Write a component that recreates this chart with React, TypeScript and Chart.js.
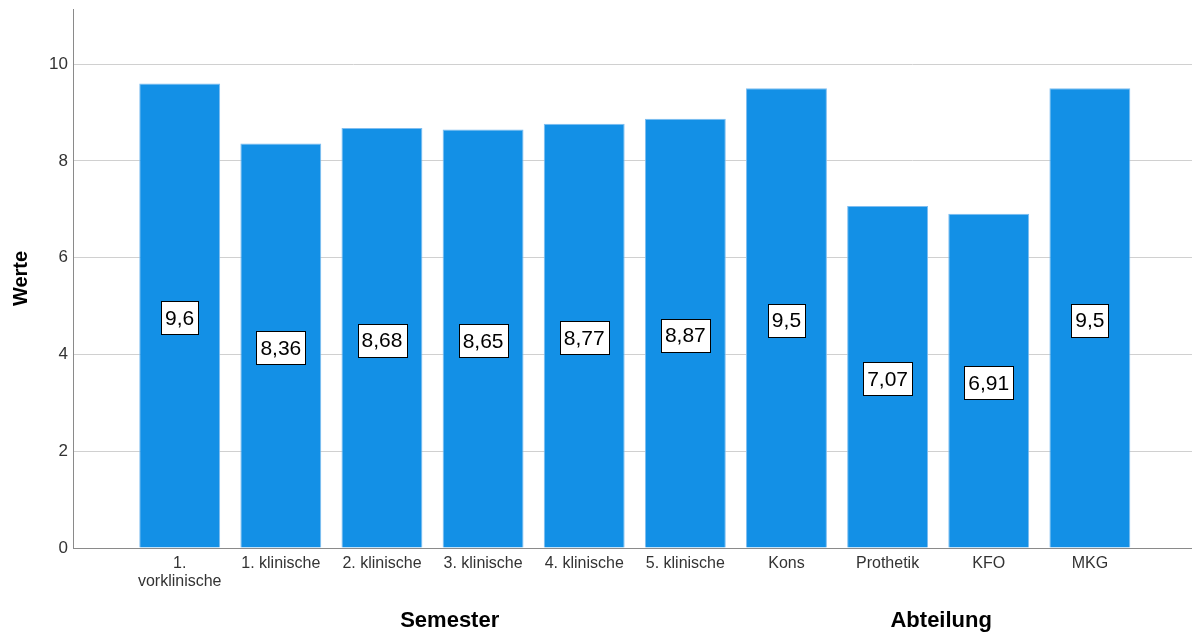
import React, { useEffect, useRef } from "react";
import { Chart, registerables } from "chart.js";

Chart.register(...registerables);

// Category labels (multi-line labels as arrays)
const categories: (string | string[])[] = [
  ["1.", "vorklinische"],
  "1. klinische",
  "2. klinische",
  "3. klinische",
  "4. klinische",
  "5. klinische",
  "Kons",
  "Prothetik",
  "KFO",
  "MKG",
];

// Mean values per category
const values: number[] = [9.6, 8.36, 8.68, 8.65, 8.77, 8.87, 9.5, 7.07, 6.91, 9.5];

// Group headings below the axis and the axis position they are centred on
const groupTitles: string[] = ["Semester", "Abteilung"];
const groupCenters: number[] = [2.67, 7.53];

// Y-axis tick values
const yTicks: number[] = [0, 2, 4, 6, 8, 10];

const FONT = "'Liberation Sans', Arial, sans-serif";

const fmt = (v: number) => String(v).replace(".", ",");

const valueBoxes = {
  id: "valueBoxes",
  afterDatasetsDraw(chart: any) {
    const { ctx } = chart;
    const meta = chart.getDatasetMeta(0);
    const yScale = chart.scales.y;
    ctx.save();
    ctx.font = `21px ${FONT}`;
    ctx.textAlign = "center";
    ctx.textBaseline = "middle";
    meta.data.forEach((bar: any, i: number) => {
      const v = values[i];
      const text = fmt(v);
      const cx = bar.x;
      const cy = yScale.getPixelForValue(v / 2) + 2;
      const w = ctx.measureText(text).width + 8;
      const h = 33;
      const x0 = Math.round(cx - w / 2) + 0.5;
      const y0 = Math.round(cy - h / 2) + 0.5;
      ctx.fillStyle = "#ffffff";
      ctx.fillRect(x0, y0, Math.round(w), h);
      ctx.strokeStyle = "#000000";
      ctx.lineWidth = 1;
      ctx.strokeRect(x0, y0, Math.round(w), h);
      ctx.fillStyle = "#000000";
      ctx.fillText(text, cx, cy + 1);
    });
    ctx.restore();
  },
};

const groupLabels = {
  id: "groupLabels",
  afterDraw(chart: any) {
    const { ctx } = chart;
    const xScale = chart.scales.x;
    ctx.save();
    ctx.font = `bold 22px ${FONT}`;
    ctx.fillStyle = "#000000";
    ctx.textAlign = "center";
    ctx.textBaseline = "middle";
    groupTitles.forEach((t, i) => {
      ctx.fillText(t, xScale.getPixelForValue(groupCenters[i]), 621);
    });
    ctx.restore();
  },
};

export default function App() {
  const canvasRef = useRef<HTMLCanvasElement | null>(null);

  useEffect(() => {
    if (!canvasRef.current) return;
    const chart = new Chart(canvasRef.current, {
      type: "bar",
      data: {
        datasets: [
          {
            data: values.map((v, i) => ({ x: i, y: v })),
            backgroundColor: "#1390e6",
            borderColor: "#7ebdf0",
            borderWidth: 1,
            barPercentage: 0.8,
            categoryPercentage: 1,
          },
        ],
      },
      options: {
        animation: false,
        responsive: false,
        layout: { padding: { top: 9, right: 0, left: 0, bottom: 0 } },
        plugins: {
          legend: { display: false },
          tooltip: { enabled: false },
        },
        scales: {
          x: {
            type: "linear",
            min: -1.055,
            max: 10.01,
            offset: false,
            grid: { display: false, drawTicks: false, offset: false },
            border: { display: true, color: "#8a8a8a", width: 1 },
            ticks: {
              stepSize: 1,
              autoSkip: false,
              maxRotation: 0,
              includeBounds: false,
              padding: 7,
              color: "#333333",
              font: { family: FONT, size: 16, lineHeight: 1.1 },
              callback: (v: any) => {
                const idx = Number(v);
                return Number.isInteger(idx) && idx >= 0 && idx < categories.length
                  ? categories[idx]
                  : "";
              },
            },
            afterFit: (s: any) => {
              s.height = 87;
              s.paddingLeft = 0;
              s.paddingRight = 0;
            },
          },
          y: {
            min: 0,
            max: 11.14,
            grid: { color: "#d0d0d0", drawTicks: false },
            border: { display: true, color: "#8a8a8a", width: 1 },
            afterBuildTicks: (s: any) => {
              s.ticks = yTicks.map((value) => ({ value }));
            },
            ticks: {
              padding: 5,
              color: "#333333",
              font: { family: FONT, size: 17 },
            },
            title: {
              display: true,
              text: "Werte",
              color: "#000000",
              font: { family: FONT, size: 20, weight: "bold" },
              padding: { top: 9, bottom: 0 },
            },
            afterFit: (s: any) => {
              s.width = 73;
              s.paddingTop = 0;
              s.paddingBottom = 0;
            },
          },
        },
      },
      plugins: [valueBoxes, groupLabels],
    });
    return () => chart.destroy();
  }, []);

  return (
    <div style={{ position: "fixed", left: 0, top: 0, width: 1192, height: 635, background: "#ffffff" }}>
      <canvas ref={canvasRef} width={1192} height={635} style={{ display: "block" }} />
    </div>
  );
}
